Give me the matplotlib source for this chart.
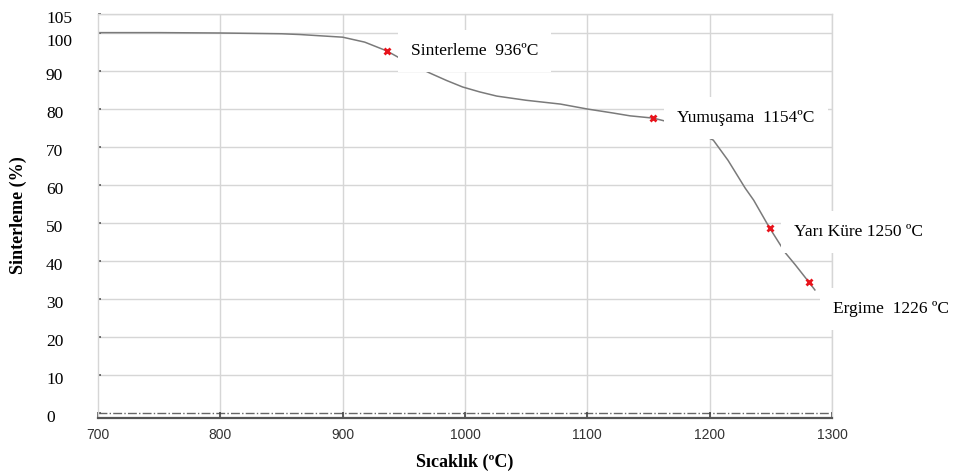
import matplotlib
matplotlib.use("Agg")
import matplotlib.pyplot as plt
import matplotlib.transforms as mtransforms

# sinterleme egrisi (okunan degerler)
sicaklik = [700, 750, 800, 850, 865, 885, 900, 918, 936, 950, 971, 985, 998, 1012, 1026, 1050,
            1078, 1100, 1120, 1135, 1154, 1180, 1203, 1215, 1229, 1236, 1249, 1262, 1270, 1281, 1286]
sinterleme = [100.1, 100.1, 100.0, 99.8, 99.6, 99.2, 98.9, 97.6, 95.3, 92.8, 89.5, 87.5, 85.8, 84.5, 83.4, 82.3,
              81.3, 80.0, 79.0, 78.2, 77.6, 75.5, 71.8, 66.5, 59.2, 56.0, 48.7, 42.1, 39.0, 34.5, 32.4]

# isaretli noktalar
nokta_x = [936, 1154, 1249, 1281]
nokta_y = [95.3, 77.6, 48.7, 34.5]
nokta_etiket = ["Sinterleme  936ºC", "Yumuşama  1154ºC", "Yarı Küre 1250 ºC", "Ergime  1226 ºC"]

x_ticks = [700, 800, 900, 1000, 1100, 1200, 1300]
y_ticks = [0, 10, 20, 30, 40, 50, 60, 70, 80, 90, 100, 105]

serif = "Liberation Serif"

fig = plt.figure(figsize=(9.6, 4.76), dpi=100)
ax = fig.add_axes([98 / 960, 1 - 418 / 476, (832 - 98) / 960, (418 - 14) / 476])

ax.set_xlim(700, 1300)
ax.set_ylim(-1.3, 105)

# grid
for xv in x_ticks[1:]:
    ax.axvline(xv, color="#d6d6d6", lw=1.0, zorder=0)
for yv in y_ticks[1:]:
    ax.axhline(yv, color="#d6d6d6", lw=1.0, zorder=0)
ax.axhline(0, color="#666666", lw=1.0, ls="-.", zorder=1)

ax.plot(sicaklik, sinterleme, color="#7a7a7a", lw=1.1, zorder=2)
ax.plot(nokta_x, nokta_y, ls="none", marker="x", ms=5, mew=2.0, color="#e8141c", zorder=3)

# etiketler (beyaz kutu)
ofs = [(24, 0), (24, 0), (24, -4), (24, -27)]
for px, py, lab, (dx, dy) in zip(nokta_x, nokta_y, nokta_etiket, ofs):
    ax.annotate(lab, xy=(px, py), xytext=(dx, dy), textcoords="offset pixels",
                ha="left", va="center", fontsize=12.5, family=serif, color="black",
                bbox=dict(boxstyle="square,pad=0.75", fc="white", ec="none"),
                annotation_clip=False, zorder=5)

# eksenler
for s in ["top", "left", "right"]:
    ax.spines[s].set_color("#d6d6d6")
    ax.spines[s].set_linewidth(1.0)
ax.spines["bottom"].set_color("#555555")
ax.spines["bottom"].set_linewidth(1.6)

ax.set_xticks(x_ticks)
ax.set_xticklabels([str(v) for v in x_ticks], family="Liberation Sans", fontsize=10, color="#333333")
ax.tick_params(axis="x", direction="in", length=4, width=1.2, color="#444444", pad=7)

ax.set_yticks(y_ticks)
ax.set_yticklabels([])
ax.tick_params(axis="y", direction="in", length=2, width=1.2, color="#555555")
tr = ax.get_yaxis_transform()
for v in y_ticks:
    dy = -9 if v == 100 else -5
    t = tr + mtransforms.ScaledTranslation(-52 / 100, dy / 100, fig.dpi_scale_trans)
    ax.text(0, v, str(v), transform=t, ha="left", va="center", fontsize=12.5, family=serif, clip_on=False)

fig.text(465 / 960, 1 - 462 / 476, "Sıcaklık (ºC)", ha="center", va="center",
         fontsize=13, fontweight="bold", family=serif)
fig.text(18 / 960, 1 - 215 / 476, "Sinterleme (%)", ha="center", va="center", rotation=90,
         fontsize=13, fontweight="bold", family=serif)

fig.savefig("out.png", dpi=100, facecolor="white")
